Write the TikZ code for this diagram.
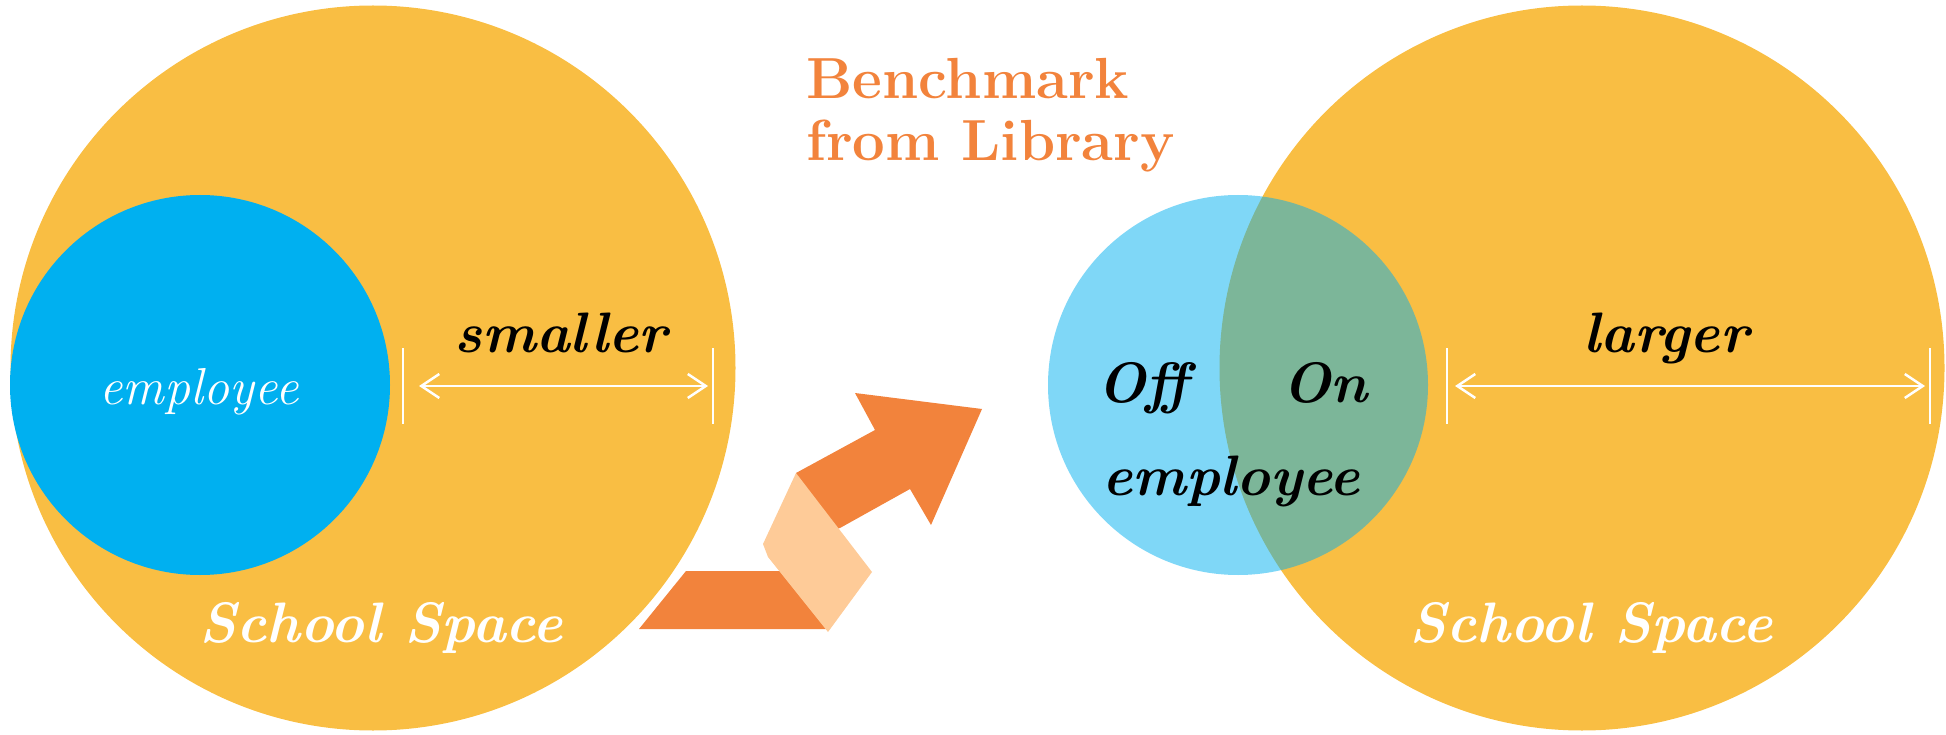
\documentclass[tikz,border=0pt]{standalone}
\usepackage{fontspec}
\usepackage{tikz}
\usetikzlibrary{arrows.meta}
\definecolor{schoolyellow}{HTML}{F9BE43}
\definecolor{staffblue}{HTML}{00B0F0}
\definecolor{benchorange}{HTML}{F2833C}
\definecolor{foldpeach}{HTML}{FECB98}

\begin{document}
\begin{tikzpicture}[x=1pt, y=-1pt,
        space/.style={circle, fill=schoolyellow, minimum size=725pt, inner sep=0pt},
        staff/.style={circle, fill=staffblue, minimum size=380pt, inner sep=0pt},
        dim/.style={white, line width=2.5pt},
        dimarrow/.style={dim, {Straight Barb[length=18pt,width=24pt]}-{Straight Barb[length=18pt,width=24pt]}},
        word/.style={font=\fontsize{57}{60}\selectfont\bfseries\itshape, inner sep=0pt, anchor=base}]
        \useasboundingbox (0,0) rectangle (1946,735);

        \node[space] (S_left) at (373,368) {};
        \node[staff] (E_left) at (200,385) {};
        \node[space] (S_right) at (1582,368) {};
        \node[staff, fill opacity=0.5] (E_right) at (1238,385) {};

        \node[word, font=\fontsize{52}{54}\selectfont\itshape, text=white] (emp_left) at (199,404) {employee};
        \node[word, text=white] (school_left) at (381,642) {School Space};
        \node[word, text=white] (school_right) at (1591,642) {School Space};
        \node[word] (smaller) at (561,352) {smaller};
        \node[word] (larger) at (1666,352) {larger};
        \node[word] (off) at (1143,402) {Off};
        \node[word] (on) at (1325,402) {On};
        \node[word] (emp_right) at (1231,495) {employee};
        \node[font=\fontsize{58}{62}\selectfont\bfseries, text=benchorange, inner sep=0pt,
              anchor=north west, align=left] (bench) at (806,58) {Benchmark\\from Library};

        \coordinate (small_a) at (403,386);
        \coordinate (small_b) at (713,386);
        \coordinate (large_a) at (1447,386);
        \coordinate (large_b) at (1930,386);
        \draw[dim] ([yshift=38pt]small_a) -- ([yshift=-38pt]small_a);
        \draw[dim] ([yshift=38pt]small_b) -- ([yshift=-38pt]small_b);
        \draw[dim] ([yshift=38pt]large_a) -- ([yshift=-38pt]large_a);
        \draw[dim] ([yshift=38pt]large_b) -- ([yshift=-38pt]large_b);
        \draw[dimarrow] ([xshift=16pt]small_a) -- ([xshift=-5pt]small_b);
        \draw[dimarrow] ([xshift=8pt]large_a) -- ([xshift=-5pt]large_b);

        \fill[benchorange] (639,629) -- (686,571) -- (800,571) -- (828,629) -- cycle;
        \fill[benchorange] (796,473) -- (875,430) -- (855,393) -- (982,409)
            -- (931,525) -- (910,489) -- (840,528) -- (800,540) -- cycle;
        \fill[foldpeach] (796,473) -- (763,544) -- (768,557) -- (828,632) -- (872,572) -- cycle;
    \end{tikzpicture}
\end{document}
